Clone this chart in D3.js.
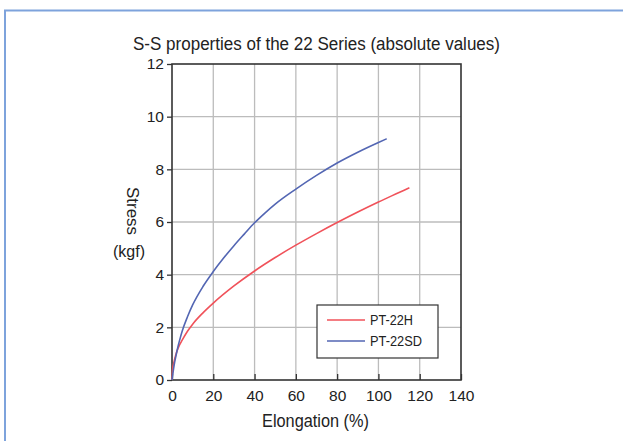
<!DOCTYPE html>
<html><head><meta charset="utf-8">
<script src="https://cdn.jsdelivr.net/npm/d3@7"></script>
<style>body{margin:0;background:#fff}svg{display:block}text{font-family:"Liberation Sans",Arial,sans-serif;fill:#222}</style>
</head><body><svg id="c" width="623" height="441"></svg>
<script>
const title = "S-S properties of the 22 Series (absolute values)";
const xTicks = [0,20,40,60,80,100,120,140];
const yTicks = [0,2,4,6,8,10,12];
const seriesNames = ["PT-22H","PT-22SD"];
const seriesColors = ["#f0525a","#5366b3"];
const h22x = [0,0.3,1,2,3,5,7.5,10,15,20,30,40,50,60,70,80,90,100,110,115];
const h22y = [0,0.4,0.7,1.0,1.22,1.52,1.85,2.12,2.55,2.92,3.57,4.14,4.65,5.12,5.56,5.98,6.38,6.76,7.12,7.3];
const sdx = [0,1,2,3,4,5,7.5,10,15,20,25,30,35,40,45,50,60,70,80,90,100,104];
const sdy = [0,0.55,0.95,1.3,1.6,1.87,2.4,2.85,3.55,4.12,4.63,5.1,5.54,5.97,6.34,6.68,7.25,7.77,8.24,8.65,9.02,9.16];

const svg = d3.select("#c");
svg.append("path").attr("d","M5,441 V10.5 H623").attr("fill","none").attr("stroke","#7ea3dc").attr("stroke-width",2);

const x = d3.scaleLinear().domain([0,140]).range([172,461]);
const y = d3.scaleLinear().domain([0,12]).range([380,64]);

svg.append("g").selectAll("line").data(xTicks.slice(1,-1)).join("line")
  .attr("x1",d=>x(d)).attr("x2",d=>x(d)).attr("y1",y(0)).attr("y2",y(12))
  .attr("stroke","#bcbcbc").attr("stroke-width",1.3);
svg.append("g").selectAll("line").data(yTicks.slice(1,-1)).join("line")
  .attr("x1",x(0)).attr("x2",x(140)).attr("y1",d=>y(d)).attr("y2",d=>y(d))
  .attr("stroke","#bcbcbc").attr("stroke-width",1.3);

const yAxis = d3.axisLeft(y).tickValues(yTicks).tickSize(5).tickPadding(3);
const gy = svg.append("g").attr("transform",`translate(${x(0)},0)`).call(yAxis);
const xAxis = d3.axisBottom(x).tickValues(xTicks).tickSize(-6).tickPadding(10);
const gx = svg.append("g").attr("transform",`translate(0,${y(0)})`).call(xAxis);
[gx,gy].forEach(g=>{
  g.attr("font-size",15.5).attr("font-family","Liberation Sans, Arial, sans-serif");
  g.select(".domain").remove();
  g.selectAll("line").attr("stroke","#333").attr("stroke-width",1.3);
  g.selectAll("text").attr("fill","#222");
});
svg.append("rect").attr("x",x(0)).attr("y",y(12)).attr("width",x(140)-x(0)).attr("height",y(0)-y(12))
  .attr("fill","none").attr("stroke","#333").attr("stroke-width",1.6);

const line = d3.line().x(d=>x(d[0])).y(d=>y(d[1])).curve(d3.curveMonotoneX);
const dataH = h22x.map((v,i)=>[v,h22y[i]]);
const dataS = sdx.map((v,i)=>[v,sdy[i]]);
[dataH,dataS].forEach((d,i)=>{
  svg.append("path").datum(d).attr("d",line).attr("fill","none")
    .attr("stroke",seriesColors[i]).attr("stroke-width",1.6);
});

svg.append("rect").attr("x",317).attr("y",305).attr("width",121).attr("height",53)
  .attr("fill","#fff").attr("stroke","#333").attr("stroke-width",1.2);
seriesNames.forEach((n,i)=>{
  const yy = 320 + i*21;
  svg.append("line").attr("x1",327).attr("x2",365).attr("y1",yy).attr("y2",yy)
    .attr("stroke",seriesColors[i]).attr("stroke-width",1.3);
  svg.append("text").attr("x",370).attr("y",yy).attr("dy","0.36em").attr("font-size",15)
    .attr("textLength", i===0?43:52).attr("lengthAdjust","spacingAndGlyphs").text(n);
});

svg.append("text").attr("x",316.5).attr("y",50).attr("text-anchor","middle").attr("font-size",18)
  .attr("textLength",367).attr("lengthAdjust","spacingAndGlyphs").text(title);
svg.append("text").attr("transform","translate(127,211) rotate(90)").attr("text-anchor","middle").attr("font-size",16)
  .attr("textLength",48).attr("lengthAdjust","spacingAndGlyphs").text("Stress");
svg.append("text").attr("x",129).attr("y",257).attr("text-anchor","middle").attr("font-size",16)
  .attr("textLength",32).attr("lengthAdjust","spacingAndGlyphs").text("(kgf)");
svg.append("text").attr("x",315.5).attr("y",427).attr("text-anchor","middle").attr("font-size",17.5)
  .attr("textLength",107).attr("lengthAdjust","spacingAndGlyphs").text("Elongation (%)");
</script></body></html>
